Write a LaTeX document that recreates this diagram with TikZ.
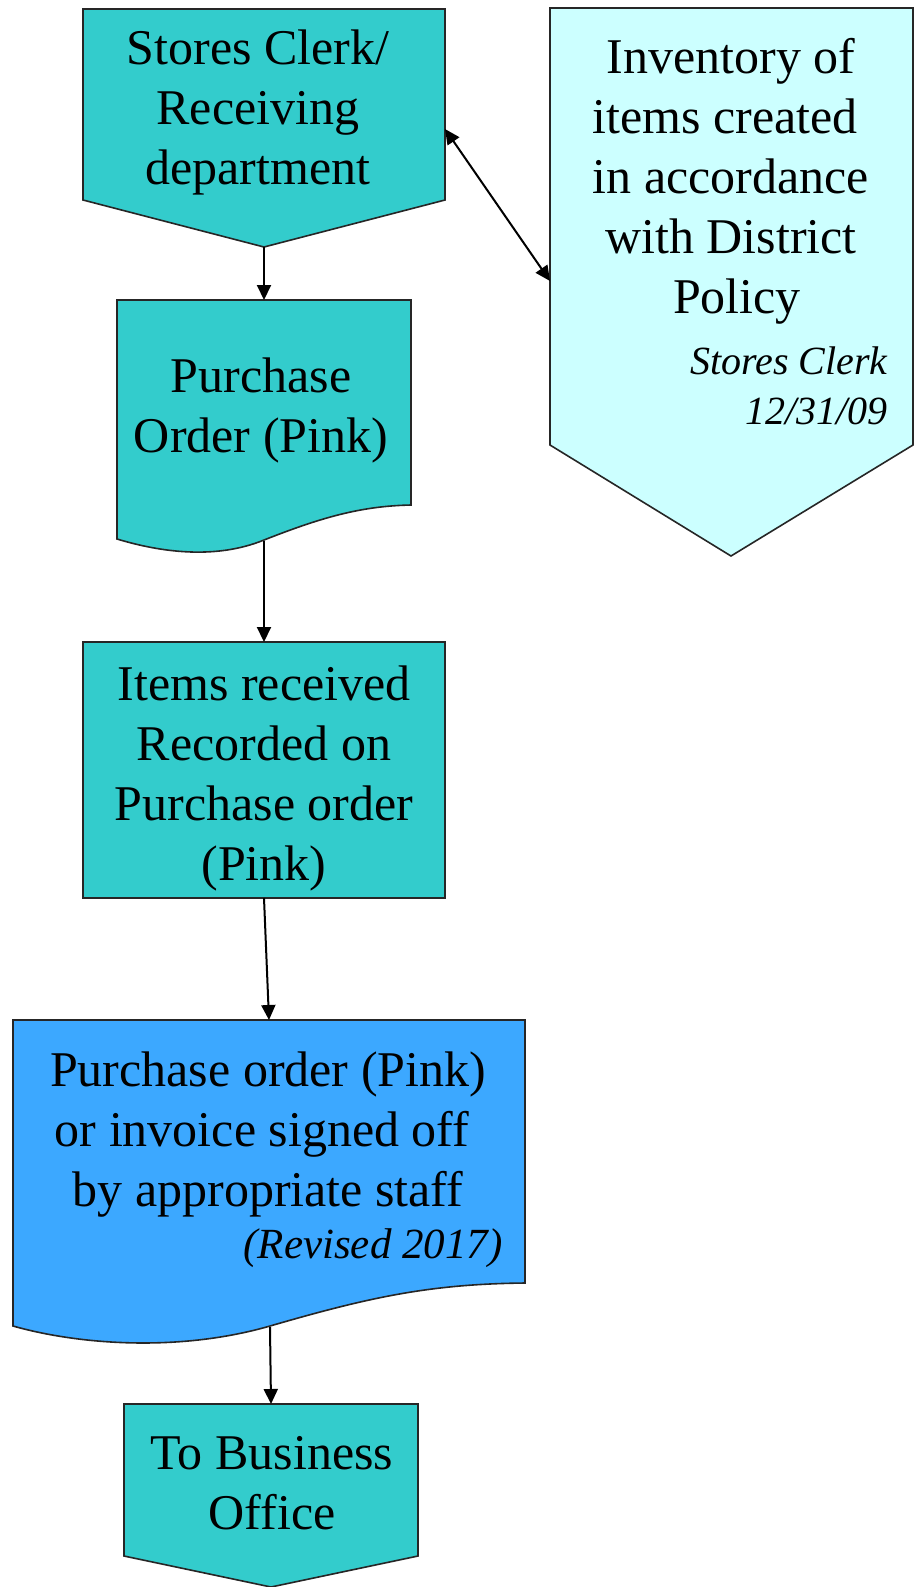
\documentclass[tikz,border=0pt]{standalone}
\usepackage{fontspec}
\setmainfont{Liberation Serif}
\usetikzlibrary{arrows.meta}
\definecolor{tealc}{HTML}{33CCCC}
\definecolor{cyanc}{HTML}{CCFFFF}
\definecolor{bluec}{HTML}{3CA8FF}
\tikzset{
  shp/.style={draw=black!85, line width=0.8pt, line join=miter},
  tealshape/.style={shp, fill=tealc},
  cyanshape/.style={shp, fill=cyanc},
  blueshape/.style={shp, fill=bluec},
  lbl/.style={inner sep=0pt, font=\fontsize{25}{30}\selectfont, align=center},
  note/.style={inner sep=0pt, font=\fontsize{20}{25}\selectfont\itshape, align=right, anchor=east},
  conn/.style={-{Triangle[length=7.5pt,width=7pt]}, line width=1pt},
  dconn/.style={{Triangle[length=7.5pt,width=7pt]}-{Triangle[length=7.5pt,width=7pt]}, line width=1pt}
}
\begin{document}
\begin{tikzpicture}[x=0.5pt,y=-0.5pt]
\useasboundingbox (0,0) rectangle (921,1587);
\fill[white] (0,0) rectangle (921,1587);

% shapes
\draw[tealshape] (83,9) -- (445,9) -- (445,200) -- (264,247) -- (83,200) -- cycle;
\draw[tealshape] (117,300) -- (411,300) -- (411,505)
   .. controls (360,506) and (320,518) .. (264,540)
   .. controls (215,560) and (160,552) .. (117,539) -- cycle;
\draw[tealshape] (83,642) rectangle (445,898);
\draw[blueshape] (13,1020) -- (525,1020) -- (525,1283)
   .. controls (430,1284) and (370,1297) .. (270,1326)
   .. controls (180,1352) and (80,1345) .. (13,1326) -- cycle;
\draw[tealshape] (124,1404) -- (418,1404) -- (418,1556) -- (271,1587) -- (124,1556) -- cycle;
\draw[cyanshape] (550,8) -- (913,8) -- (913,445) -- (731,556) -- (550,445) -- cycle;

% connector end points
\coordinate (aBot) at (264,247);
\coordinate (aRight) at (445,129);
\coordinate (bTop) at (264,300);
\coordinate (bBot) at (264,541);
\coordinate (cTop) at (264,642);
\coordinate (cBot) at (264,898);
\coordinate (dTop) at (269,1020);
\coordinate (dBot) at (270,1327);
\coordinate (eTop) at (271,1404);
\coordinate (fLeft) at (550,281);

% texts
\node[lbl] (tA) at (258,112) {Stores Clerk/\strut\\Receiving\strut\\department\strut};
\node[lbl] (tB) at (261,410) {Purchase\strut\\Order (Pink)\strut};
\node[lbl] (tC) at (264,778) {Items received\strut\\Recorded on\strut\\Purchase order\strut\\(Pink)\strut};
\node[lbl] (tD) at (268,1134) {Purchase order (Pink)\strut\\or invoice signed off\hspace*{6pt}\strut\\by appropriate staff\strut};
\node[note, font=\fontsize{21.5}{25}\selectfont\itshape] (tD2) at (503,1248) {(Revised 2017)\strut};
\node[lbl] (tE) at (272,1487) {To Business\strut\\Office\strut};
\node[lbl] (tF) at (731,181) {Inventory of\strut\\items created\hspace*{6pt}\strut\\in accordance\strut\\with District\strut\\\hspace*{6pt}Policy\strut};
\node[note] (tF2) at (888,389) {Stores Clerk\strut\\12/31/09\strut};

% connectors
\draw[conn] (aBot) -- (bTop);
\draw[conn] (bBot) -- (cTop);
\draw[conn] (cBot) -- (dTop);
\draw[conn] (dBot) -- (eTop);
\draw[dconn] (aRight) -- (fLeft);
\end{tikzpicture}
\end{document}
